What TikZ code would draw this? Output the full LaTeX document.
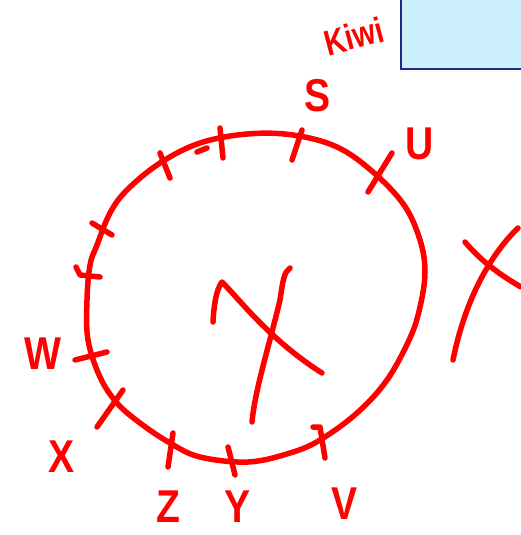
\documentclass[tikz,border=0pt]{standalone}
\usepackage{fontspec}
\setmainfont{Liberation Sans}
\begin{document}
\begin{tikzpicture}[x=1pt,y=-1pt,
  ink/.style={draw=red, line width=5.5pt, line cap=round, line join=round},
  lbl/.style={text=red, font=\bfseries\fontsize{46}{46}\selectfont, inner sep=0pt, xscale=0.85},
  panel/.style={fill=cyan!20, draw=blue!45!black!85, line width=2pt}]
\useasboundingbox (0,0) rectangle (521,535);
\begin{scope}
\clip (0,0) rectangle (521,535);
\path[panel] (401,-10) rectangle (530,69);
\end{scope}
% circle
\draw[ink] plot[smooth cycle, tension=0.6] coordinates {
 (247,134) (293,135) (337,147) (373,172) (404,205) (420,240) (425,272)
 (420,307) (410,338) (387,380) (357,413) (320,440) (290,453)
 (248,462) (200,457) (170,443) (140,423) (117,403) (100,377)
 (88,340) (87,300) (90,265) (97,245) (110,213) (127,190) (160,163) (200,143)};
% ticks
\draw[ink] (160,153) -- (170,178);
\draw[ink] (220,128) -- (223,158);
\draw[ink] (197,152) -- (207,148);
\draw[ink] (302,130) -- (292,160);
\draw[ink] (392,153) -- (368,192);
\draw[ink] (92,223) -- (112,235);
\draw[ink] (76,267) -- (80,275) -- (100,277);
\draw[ink] (75,360) -- (107,352);
\draw[ink] (123,390) -- (97,427);
\draw[ink] (173,433) -- (168,467);
\draw[ink] (228,447) -- (235,475);
\draw[ink] (313,427) -- (320,427) -- (325,458);
% central X
\draw[ink] (213,322) .. controls (214,305) and (216,290) .. (222,282)
  .. controls (240,300) and (270,340) .. (322,373);
\draw[ink] (290,268) .. controls (284,272) and (283,280) .. (280,300)
  .. controls (268,350) and (255,390) .. (252,422);
% right X
\draw[ink] (518,228) .. controls (490,255) and (465,300) .. (453,360);
\draw[ink] (465,242) .. controls (480,260) and (500,275) .. (521,287);
% labels
\node[lbl] (S) at (318,96) {S};
\node[lbl] (U) at (420,144) {U};
\node[lbl] (W) at (43,354) {W};
\node[lbl] (X) at (62,457) {X};
\node[lbl] (Z) at (168,507) {Z};
\node[lbl] (Y) at (238,507) {Y};
\node[lbl] (V) at (345,504) {V};
\node[text=red, font=\bfseries\fontsize{36}{36}\selectfont, rotate=15, xscale=0.8, inner sep=0pt] (kiwi) at (354,36) {Kiwi};
\end{tikzpicture}
\end{document}
